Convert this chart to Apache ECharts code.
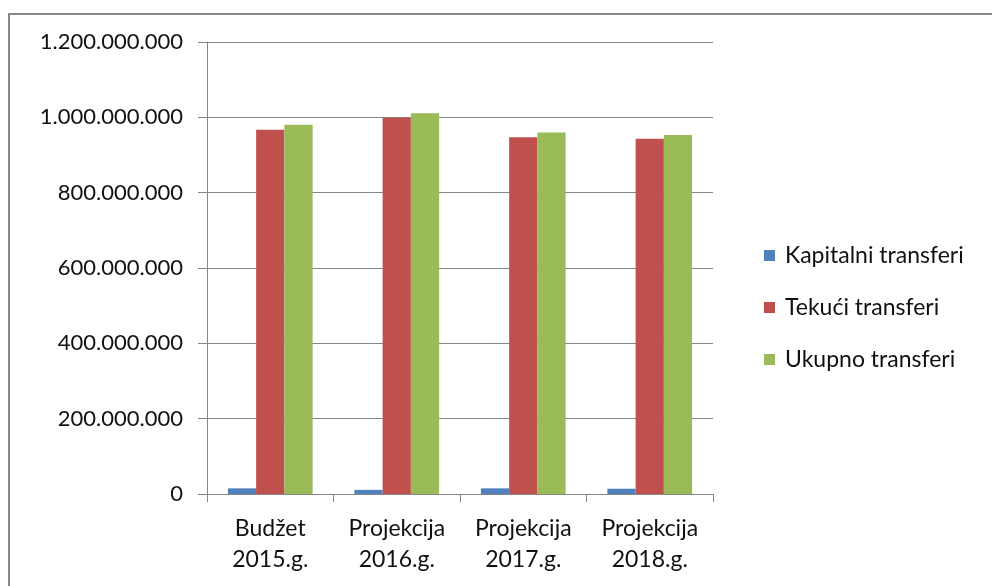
<!DOCTYPE html>
<html>
<head>
    <meta charset="utf-8">
    <title>Transferi</title>
    <script src="https://cdn.jsdelivr.net/npm/echarts@6/dist/echarts.min.js"></script>
    <style>
        html, body { margin: 0; padding: 0; background: #fff; }
    </style>
</head>
<body>
    <div id="main" style="width: 992px;height:586px;"></div>
    <script type="text/javascript">
        // podaci
        var categories = ['Budžet\n2015.g.', 'Projekcija\n2016.g.', 'Projekcija\n2017.g.', 'Projekcija\n2018.g.'];
        var kapitalni = [15000000, 11000000, 15000000, 14000000];
        var tekuci = [967000000, 999000000, 947000000, 943000000];
        var ukupno = [980000000, 1011000000, 960000000, 953000000];

        var fontFamily = 'Lato';
        var gray = '#868686';

        function formatBroj(v) {
            return String(v).replace(/\B(?=(\d{3})+(?!\d))/g, '.');
        }

        var myChart = echarts.init(document.getElementById('main'));

        myChart.setOption({
            animation: false,
            textStyle: { fontFamily: fontFamily },
            graphic: [{
                type: 'rect',
                shape: { x: 9, y: 14, width: 1000, height: 600 },
                style: { fill: null, stroke: gray, lineWidth: 2 }
            }],
            grid: { left: 207, right: 279, top: 42, bottom: 92 },
            legend: {
                orient: 'vertical',
                left: 759,
                top: 239,
                itemWidth: 11,
                itemHeight: 11,
                itemGap: 29,
                icon: 'rect',
                textStyle: { fontSize: 23, color: '#111', lineHeight: 20, padding: [0, 0, 0, 5] },
                data: ['Kapitalni transferi', 'Tekući transferi', 'Ukupno transferi']
            },
            xAxis: {
                type: 'category',
                data: categories,
                axisLine: { lineStyle: { color: gray, width: 1 } },
                axisTick: { show: true, length: 8, lineStyle: { color: gray } },
                axisLabel: { color: '#111', fontSize: 23, lineHeight: 31, margin: 19 }
            },
            yAxis: {
                type: 'value',
                min: 0,
                max: 1200000000,
                interval: 200000000,
                axisLine: { show: true, lineStyle: { color: gray, width: 1 } },
                axisTick: { show: true, length: 9, lineStyle: { color: gray } },
                splitLine: { lineStyle: { color: gray, width: 1 } },
                axisLabel: { color: '#111', fontSize: 22, margin: 24, formatter: formatBroj }
            },
            series: [{
                name: 'Kapitalni transferi',
                type: 'bar',
                data: kapitalni,
                barGap: '0%',
                barCategoryGap: '33%',
                itemStyle: { color: '#4F81BD' }
            }, {
                name: 'Tekući transferi',
                type: 'bar',
                data: tekuci,
                barGap: '0%',
                barCategoryGap: '33%',
                itemStyle: { color: '#C0504D' }
            }, {
                name: 'Ukupno transferi',
                type: 'bar',
                data: ukupno,
                barGap: '0%',
                barCategoryGap: '33%',
                itemStyle: { color: '#9BBB59' }
            }]
        });
    </script>
</body>
</html>
